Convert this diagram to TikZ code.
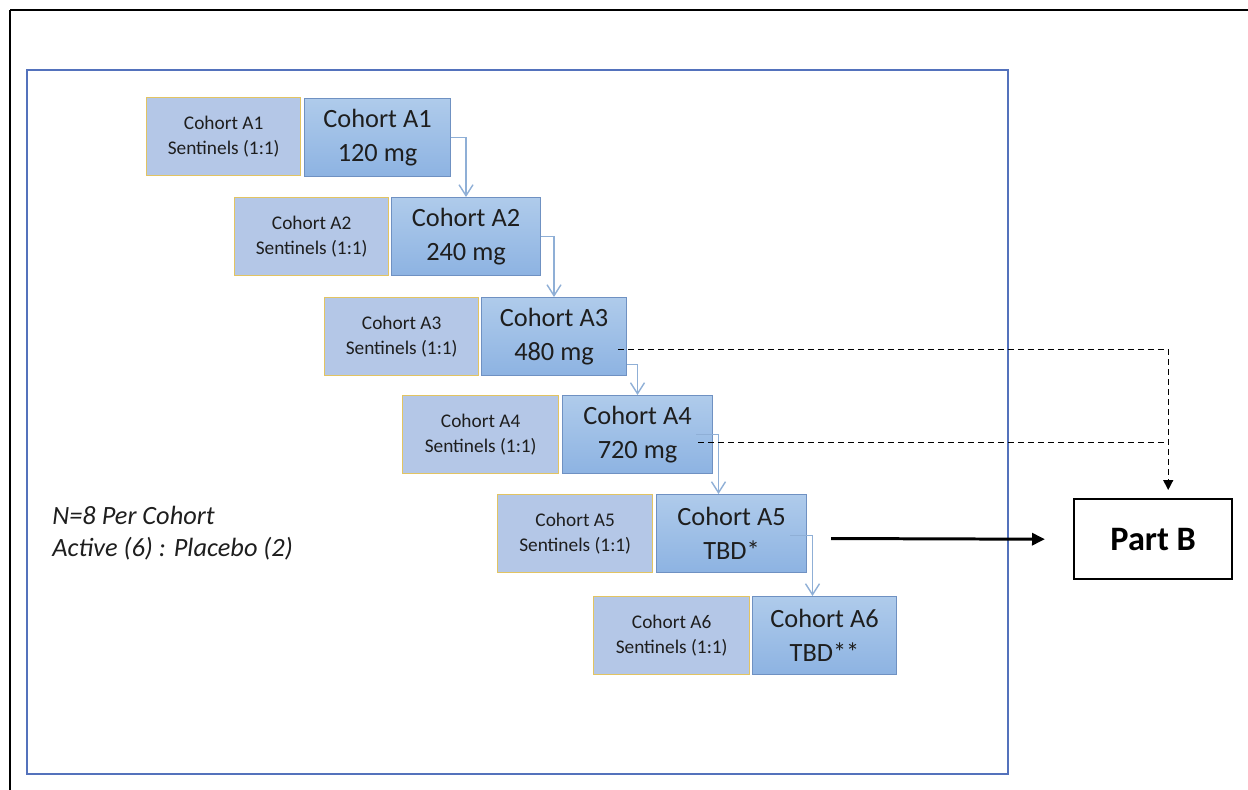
\documentclass[tikz,border=0pt]{standalone}
\usepackage{fontspec}
\setmainfont{Carlito}
\usetikzlibrary{arrows.meta,calc}
\definecolor{sentfill}{HTML}{B4C7E7}
\definecolor{sentdraw}{HTML}{E2C462}
\definecolor{maintop}{HTML}{AFCBEB}
\definecolor{mainbot}{HTML}{8DB3E2}
\definecolor{maindraw}{HTML}{6F91C2}
\definecolor{framebl}{HTML}{5472BC}
\definecolor{connc}{HTML}{8FAFD6}
\definecolor{txtc}{HTML}{1E1E1E}
\tikzset{
  sentbox/.style={draw=sentdraw, line width=0.8pt, fill=sentfill, anchor=north west,
    minimum height=1.56cm, inner sep=0pt, align=center, text=txtc,
    font=\fontsize{11}{14.5}\selectfont},
  mainbox/.style={draw=maindraw, line width=0.6pt, top color=maintop, bottom color=mainbot,
    anchor=north west, minimum height=1.56cm, inner sep=0pt, align=center, text=txtc,
    font=\fontsize{15}{19}\selectfont},
  conn/.style={draw=connc, line width=0.8pt, -{Straight Barb[length=2.2mm,width=2.8mm]}},
  dsh/.style={draw=black, line width=0.8pt, dash pattern=on 1.2mm off 0.8mm},
  partbox/.style={draw=black, line width=1.4pt, fill=white, anchor=north west,
    minimum width=3.16cm, minimum height=1.6cm, inner sep=0pt,
    font=\fontsize{19.5}{22}\selectfont\bfseries}
}
\begin{document}
\begin{tikzpicture}[x=0.02cm,y=-0.02cm]
\useasboundingbox (0,0) rectangle (1248,790);
% outer black frame
\draw[line width=1.6pt] (10,10) -- (1248,10);
\draw[line width=0.9pt] (10,10) -- (10,790);
% blue frame
\draw[framebl, line width=1.1pt] (27,70) rectangle (1008,774);
% rows
\node[sentbox, minimum width=3.08cm] (S1) at (146,97) {Cohort A1\\Sentinels (1:1)};
\node[mainbox, minimum width=2.92cm] (M1) at (304,98) {Cohort A1\\120 mg};
\node[sentbox, minimum width=3.08cm] (S2) at (234,197) {Cohort A2\\Sentinels (1:1)};
\node[mainbox, minimum width=2.98cm] (M2) at (391,197) {Cohort A2\\240 mg};
\node[sentbox, minimum width=3.08cm] (S3) at (324,297) {Cohort A3\\Sentinels (1:1)};
\node[mainbox, minimum width=2.90cm] (M3) at (481,297) {Cohort A3\\480 mg};
\node[sentbox, minimum width=3.12cm] (S4) at (402,395) {Cohort A4\\Sentinels (1:1)};
\node[mainbox, minimum width=3.00cm] (M4) at (562,395) {Cohort A4\\720 mg};
\node[sentbox, minimum width=3.10cm] (S5) at (497,494) {Cohort A5\\Sentinels (1:1)};
\node[mainbox, minimum width=3.00cm] (M5) at (656,494) {Cohort A5\\TBD*};
\node[sentbox, minimum width=3.12cm] (S6) at (593,596) {Cohort A6\\Sentinels (1:1)};
\node[mainbox, minimum width=2.88cm] (M6) at (752,596) {Cohort A6\\TBD**};
% Part B
\node[partbox] (PB) at (1073,498) {Part B};
% note
\node[anchor=west, align=left, inner sep=0pt, text=txtc,
  font=\fontsize{15}{18}\selectfont\itshape] (note) at (52,533)
  {N=8 Per Cohort\\Active (6) : Placebo (2)};
% connectors between cohorts
\draw[conn] (M1.east) -| (M2.north);
\draw[conn] (M2.east) -| (M3.north);
\draw[conn] ($(M3.east)+(0,28)$) -| (M4.north);
\draw[conn] ($(M4.east)+(-17,0)$) -| ($(M5.north)+(-13,0)$);
\draw[conn] ($(M5.east)+(-17,2)$) -| ($(M6.north)+(-12,0)$);
% dashed to Part B
\coordinate (j) at ($(PB.north)+(15,-8)$);
\coordinate (d3) at ($(M3.east)+(-9,13)$);
\coordinate (d4) at ($(M4.east)+(-15,8)$);
\draw[dsh, -{Triangle[length=2mm,width=2mm]}] (d3) -| (j);
\draw[dsh] (d4) -- (d4 -| j);
% solid arrow
\draw[line width=1.7pt, -{Triangle[length=2.6mm,width=2.4mm]}] ($(M5.east)+(24,5)$) -- ($(PB.west)+(-28,0)$);
\end{tikzpicture}
\end{document}
